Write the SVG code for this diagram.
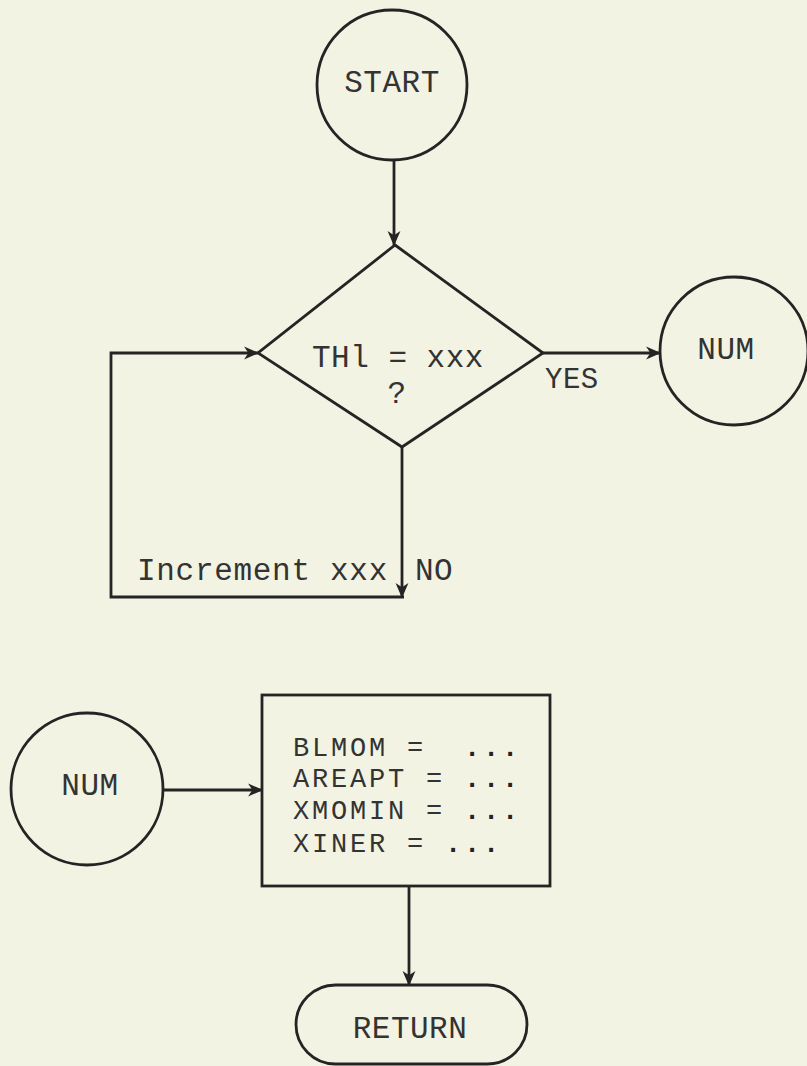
<svg xmlns="http://www.w3.org/2000/svg" width="807" height="1066" viewBox="0 0 807 1066">
<defs>
<style>
.bg{fill:#f3f3e3}
.shape{fill:none;stroke:#242424;stroke-width:2.8}
.conn{fill:none;stroke:#242424;stroke-width:2.8}
.t{font-family:"Liberation Mono","Courier New",monospace;fill:#333;font-size:31px;letter-spacing:0.5px}
.m{text-anchor:middle}
.bx{font-size:27px;letter-spacing:2.8px}
.dots{font-weight:bold;fill:#222}
</style>
<marker id="ah" viewBox="0 0 14 14" refX="13" refY="7" markerWidth="15" markerHeight="15" orient="auto" markerUnits="userSpaceOnUse">
<path d="M0,1 L14,7 L0,13 L4,7 z" fill="#242424"/>
</marker>
</defs>
<rect class="bg" x="0" y="0" width="807" height="1066"/>

<g id="connectors">
<path class="conn" d="M394,160 L394,245" marker-end="url(#ah)"/>
<path class="conn" d="M543,353 L660,353" marker-end="url(#ah)"/>
<path class="conn" d="M402,447 L402,597" marker-end="url(#ah)"/>
<path class="conn" d="M404,597 L111,597 L111,353 L258,353" marker-end="url(#ah)"/>
<path class="conn" d="M163,790 L262,790" marker-end="url(#ah)"/>
<path class="conn" d="M409,886 L409,985" marker-end="url(#ah)"/>
</g>

<g id="start">
<circle class="shape" cx="392" cy="85" r="75"/>
<text class="t m" x="392" y="92" font-size="30">START</text>
</g>

<g id="decision">
<path class="shape" d="M395,245 L543,353 L402,447 L258,353 Z"/>
<text class="t" x="312" y="367">THl = xxx</text>
<text class="t m" x="397" y="403">?</text>
</g>

<g id="yes-label">
<text class="t" x="545" y="388" style="font-size:29px">YES</text>
</g>

<g id="num-top">
<circle class="shape" cx="734" cy="351" r="74"/>
<text class="t m" x="726" y="359">NUM</text>
</g>

<g id="increment">
<text class="t" x="137" y="580" style="letter-spacing:0.7px">Increment xxx</text>
</g>

<g id="no-label">
<text class="t" x="415" y="580">NO</text>
</g>

<g id="num-bottom">
<circle class="shape" cx="87" cy="789" r="76"/>
<text class="t m" x="90" y="795">NUM</text>
</g>

<g id="process">
<rect class="shape" x="262" y="695" width="288" height="191"/>
<text class="t bx" x="293" y="756" xml:space="preserve">BLMOM =  <tspan class="dots">...</tspan></text>
<text class="t bx" x="293" y="787" xml:space="preserve">AREAPT = <tspan class="dots">...</tspan></text>
<text class="t bx" x="293" y="819" xml:space="preserve">XMOMIN = <tspan class="dots">...</tspan></text>
<text class="t bx" x="293" y="852" xml:space="preserve">XINER = <tspan class="dots">...</tspan></text>
</g>

<g id="return">
<rect class="shape" x="296" y="985" width="231" height="79" rx="39.5" ry="39.5"/>
<text class="t m" x="410" y="1038">RETURN</text>
</g>
</svg>
